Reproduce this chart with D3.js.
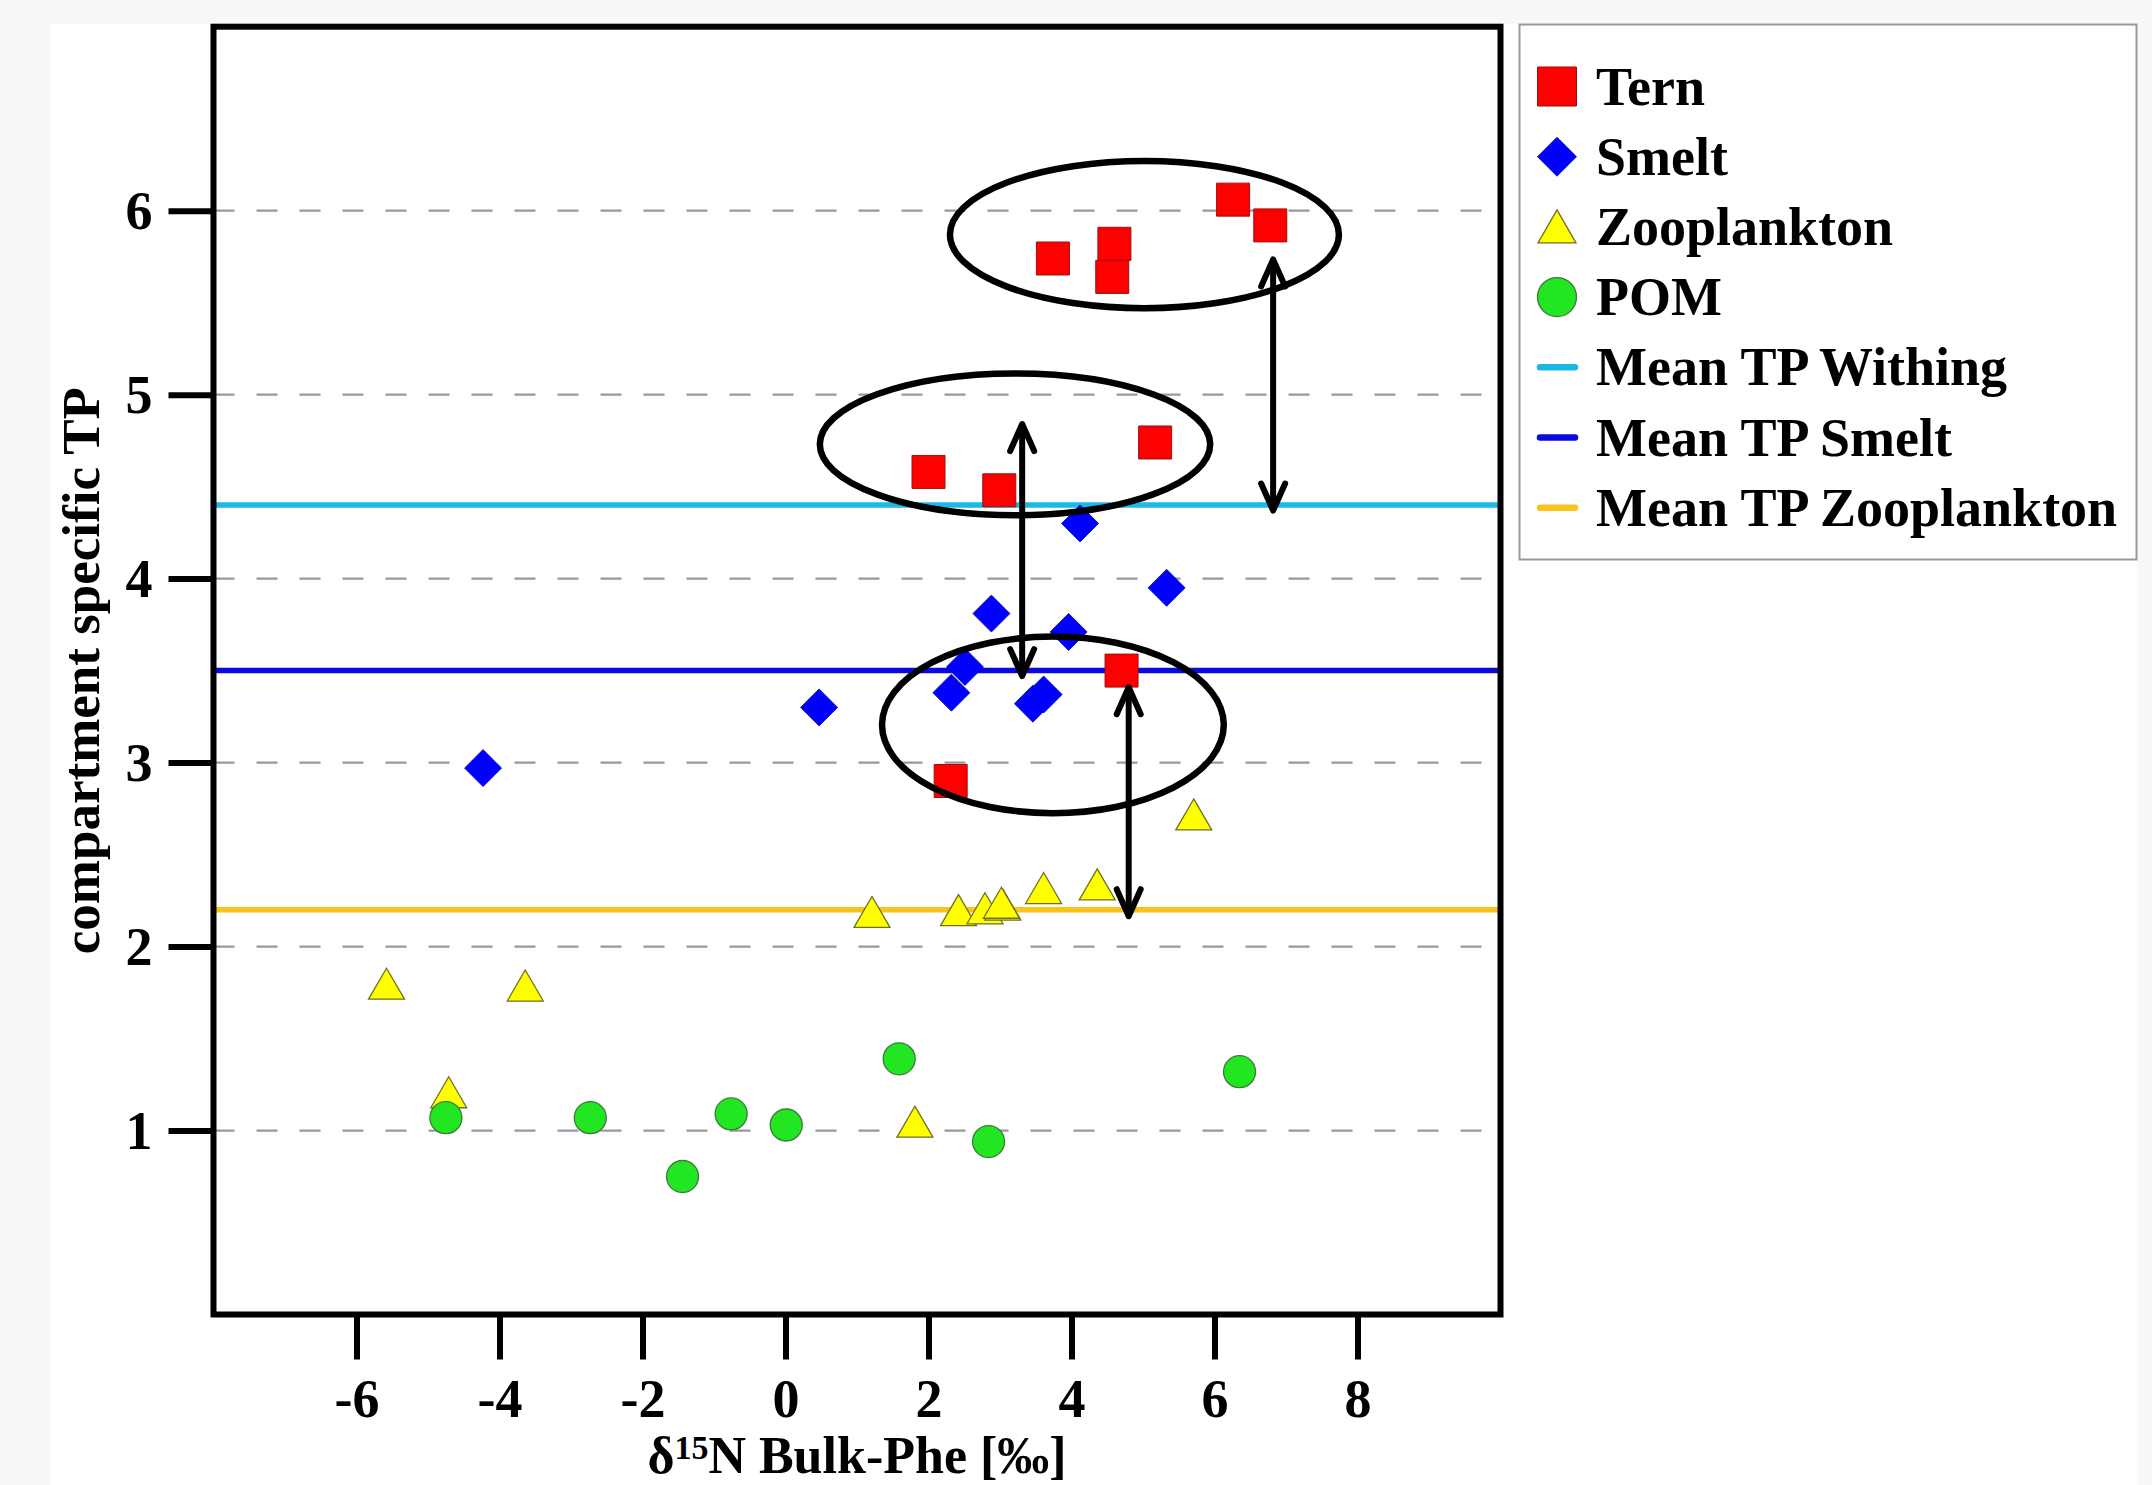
<!DOCTYPE html>
<html>
<head>
<meta charset="utf-8">
<script src="https://cdn.jsdelivr.net/npm/d3@7/dist/d3.min.js"></script>
<style>
  html, body { margin: 0; padding: 0; background: #f7f8fa; }
  svg { display: block; }
  text { font-family: "Liberation Serif", "Times New Roman", serif; font-weight: bold; fill: #000; }
</style>
</head>
<body>
<svg id="chart" width="2152" height="1485"></svg>
<script>
// ---------------- data ----------------
const ternX = [3.74, 4.60, 4.57, 6.26, 6.78, 2.00, 2.99, 5.17, 4.70, 2.31];
const ternY = [5.74, 5.82, 5.64, 6.06, 5.92, 4.58, 4.48, 4.74, 3.50, 2.90];

const smeltX = [-4.23, 0.47, 2.32, 2.51, 2.88, 3.46, 3.61, 3.96, 4.12, 5.33];
const smeltY = [2.97, 3.30, 3.38, 3.52, 3.81, 3.32, 3.37, 3.71, 4.30, 3.95];

const zooX = [-5.58, -4.71, -3.64, 1.21, 1.81, 2.42, 2.79, 3.04, 3.02, 3.61, 4.36, 5.71];
const zooY = [1.77, 1.18, 1.76, 2.16, 1.02, 2.17, 2.18, 2.20, 2.21, 2.29, 2.31, 2.69];

const pomX = [-4.75, -2.73, -1.44, -0.76, 0.01, 1.59, 2.84, 6.35];
const pomY = [1.07, 1.07, 0.75, 1.09, 1.03, 1.39, 0.94, 1.32];

const meanNames  = ["Mean TP Withing", "Mean TP Smelt", "Mean TP Zooplankton"];
const meanValues = [4.4, 3.5, 2.2];

// annotation ellipses (data units) and double arrows
const ellCX = [5.02, 3.21, 3.74];
const ellCY = [5.87, 4.73, 3.205];
const ellRX = [2.72, 2.73, 2.39];
const ellRY = [0.40, 0.385, 0.48];

const arrowX  = [6.82, 3.31, 4.80];
const arrowY1 = [5.735, 4.84, 3.41];
const arrowY2 = [4.37, 3.47, 2.165];

const xTicks = [-6, -4, -2, 0, 2, 4, 6, 8];
const yTicks = [1, 2, 3, 4, 5, 6];
const legendNames = ["Tern", "Smelt", "Zooplankton", "POM", "Mean TP Withing", "Mean TP Smelt", "Mean TP Zooplankton"];

// ---------------- styles ----------------
const colTern = "#ff0000", colSmelt = "#0000ff", colZoo = "#ffff00", colPom = "#22e622";
const meanColors = ["#1cb9e8", "#0a0ade", "#f8c41c"];

// ---------------- layout ----------------
const svg = d3.select("#chart");
const pL = 213.5, pR = 1500.5, pT = 26.7, pB = 1314.5;
const x = d3.scaleLinear().domain([-8, 10]).range([pL, pR]);
const y = d3.scaleLinear().domain([0, 7]).range([pB, pT]);

// white card
svg.append("rect").attr("x", 51).attr("y", 24).attr("width", 2086).attr("height", 1480).attr("fill", "#ffffff");

svg.append("clipPath").attr("id", "plotclip").append("rect")
  .attr("x", pL).attr("y", pT).attr("width", pR - pL).attr("height", pB - pT);

const plot = svg.append("g").attr("clip-path", "url(#plotclip)");

// dashed grid
plot.selectAll("line.grid").data(yTicks).enter().append("line")
  .attr("x1", pL).attr("x2", pR)
  .attr("y1", d => y(d)).attr("y2", d => y(d))
  .attr("stroke", "#999999").attr("stroke-width", 2.2)
  .attr("stroke-dasharray", "21 22");

// mean lines
plot.selectAll("line.mean").data(meanValues).enter().append("line")
  .attr("x1", pL).attr("x2", pR)
  .attr("y1", d => y(d)).attr("y2", d => y(d))
  .attr("stroke", (d, i) => meanColors[i]).attr("stroke-width", 5.5);

// symbol generators
function squarePath(cx, cy, s) { const h = s / 2; return `M${cx-h},${cy-h}h${s}v${s}h${-s}Z`; }
function diamondPath(cx, cy, h) { return `M${cx},${cy-h}L${cx+h},${cy}L${cx},${cy+h}L${cx-h},${cy}Z`; }
function trianglePath(cx, cy, w, hgt) {
  const r = hgt * 2 / 3;
  return `M${cx},${cy-r}L${cx+w/2},${cy+r/2}L${cx-w/2},${cy+r/2}Z`;
}

// Tern
plot.selectAll("path.tern").data(d3.range(ternX.length)).enter().append("path")
  .attr("d", i => squarePath(x(ternX[i]), y(ternY[i]), 33))
  .attr("fill", colTern).attr("stroke", "#9a1010").attr("stroke-width", 1);

// Smelt
plot.selectAll("path.smelt").data(d3.range(smeltX.length)).enter().append("path")
  .attr("d", i => diamondPath(x(smeltX[i]), y(smeltY[i]), 18.5))
  .attr("fill", colSmelt).attr("stroke", "#0000b0").attr("stroke-width", 0.8);

// Zooplankton
plot.selectAll("path.zoo").data(d3.range(zooX.length)).enter().append("path")
  .attr("d", i => trianglePath(x(zooX[i]), y(zooY[i]), 36, 31))
  .attr("fill", colZoo).attr("stroke", "#707020").attr("stroke-width", 1.3);

// POM
plot.selectAll("circle.pom").data(d3.range(pomX.length)).enter().append("circle")
  .attr("cx", i => x(pomX[i])).attr("cy", i => y(pomY[i])).attr("r", 16)
  .attr("fill", colPom).attr("stroke", "#3a7a3a").attr("stroke-width", 1.3);

// ellipses
plot.selectAll("ellipse.ann").data(d3.range(ellCX.length)).enter().append("ellipse")
  .attr("cx", i => x(ellCX[i])).attr("cy", i => y(ellCY[i]))
  .attr("rx", i => x(ellCX[i] + ellRX[i]) - x(ellCX[i]))
  .attr("ry", i => y(ellCY[i]) - y(ellCY[i] + ellRY[i]))
  .attr("fill", "none").attr("stroke", "#000").attr("stroke-width", 6.5);

// double arrows
const arr = plot.selectAll("g.arrow").data(d3.range(arrowX.length)).enter().append("g");
arr.append("line")
  .attr("x1", i => x(arrowX[i])).attr("x2", i => x(arrowX[i]))
  .attr("y1", i => y(arrowY1[i]) + 2).attr("y2", i => y(arrowY2[i]) - 2)
  .attr("stroke", "#000").attr("stroke-width", 6);
arr.append("path")
  .attr("d", i => {
    const ax = x(arrowX[i]), ya = y(arrowY1[i]), yb = y(arrowY2[i]);
    return `M${ax-12},${ya+27}L${ax},${ya}L${ax+12},${ya+27}` +
           `M${ax-12},${yb-27}L${ax},${yb}L${ax+12},${yb-27}`;
  })
  .attr("fill", "none").attr("stroke", "#000").attr("stroke-width", 6)
  .attr("stroke-linecap", "round").attr("stroke-linejoin", "round");

// frame
svg.append("rect").attr("x", pL).attr("y", pT).attr("width", pR - pL).attr("height", pB - pT)
  .attr("fill", "none").attr("stroke", "#000").attr("stroke-width", 6);

// axes
const fmt = d => String(d);
const xAxis = d3.axisBottom(x).tickValues(xTicks).tickSize(44).tickSizeOuter(0).tickPadding(0).tickFormat(fmt);
const gx = svg.append("g").attr("transform", `translate(0,${pB + 1})`).call(xAxis);
gx.select(".domain").remove();
gx.selectAll(".tick line").attr("stroke", "#000").attr("stroke-width", 6);
gx.selectAll(".tick text").attr("y", 101).attr("dy", 0)
  .style("font-size", "54px").style("font-family", "'Liberation Serif', serif").style("font-weight", "bold").attr("fill", "#000");

const yAxis = d3.axisLeft(y).tickValues(yTicks).tickSize(45).tickSizeOuter(0).tickPadding(0).tickFormat(fmt);
const gy = svg.append("g").attr("transform", `translate(${pL},0)`).call(yAxis);
gy.select(".domain").remove();
gy.selectAll(".tick line").attr("stroke", "#000").attr("stroke-width", 6);
gy.selectAll(".tick text").attr("x", -61).attr("dy", "0.33em")
  .style("font-size", "54px").style("font-family", "'Liberation Serif', serif").style("font-weight", "bold").attr("fill", "#000");

// axis titles
svg.append("text")
  .attr("transform", `translate(99,${(pT + pB) / 2}) rotate(-90)`)
  .attr("text-anchor", "middle").style("font-size", "53px")
  .text("compartment specific TP");

const xl = svg.append("text").attr("x", (pL + pR) / 2).attr("y", 1473)
  .attr("text-anchor", "middle").style("font-size", "52px");
xl.append("tspan").text("δ");
xl.append("tspan").attr("dy", -14).style("font-size", "34px").text("15");
xl.append("tspan").attr("dy", 14).text("N Bulk-Phe [‰]");

// legend
const lg = svg.append("g");
lg.append("rect").attr("x", 1519.5).attr("y", 24.5).attr("width", 617).attr("height", 535)
  .attr("fill", "#fff").attr("stroke", "#9a9a9a").attr("stroke-width", 2);
const ly = i => 86.5 + i * 70.2;
const lx = 1557;
lg.append("path").attr("d", squarePath(lx, ly(0), 39)).attr("fill", colTern).attr("stroke", "#9a1010").attr("stroke-width", 1);
lg.append("path").attr("d", diamondPath(lx, ly(1), 19.5)).attr("fill", colSmelt).attr("stroke", "#0000b0").attr("stroke-width", 0.8);
lg.append("path").attr("d", trianglePath(lx, ly(2) + 5, 38, 33)).attr("fill", colZoo).attr("stroke", "#707020").attr("stroke-width", 1.3);
lg.append("circle").attr("cx", lx).attr("cy", ly(3)).attr("r", 19.5).attr("fill", colPom).attr("stroke", "#3a7a3a").attr("stroke-width", 1.3);
meanColors.forEach((c, k) => {
  lg.append("line").attr("x1", 1540).attr("x2", 1575).attr("y1", ly(4 + k)).attr("y2", ly(4 + k))
    .attr("stroke", c).attr("stroke-width", 6.5).attr("stroke-linecap", "round");
});
lg.selectAll("text.leg").data(legendNames).enter().append("text")
  .attr("x", 1596).attr("y", (d, i) => ly(i) + 18)
  .style("font-size", "54px").text(d => d);
</script>
</body>
</html>
